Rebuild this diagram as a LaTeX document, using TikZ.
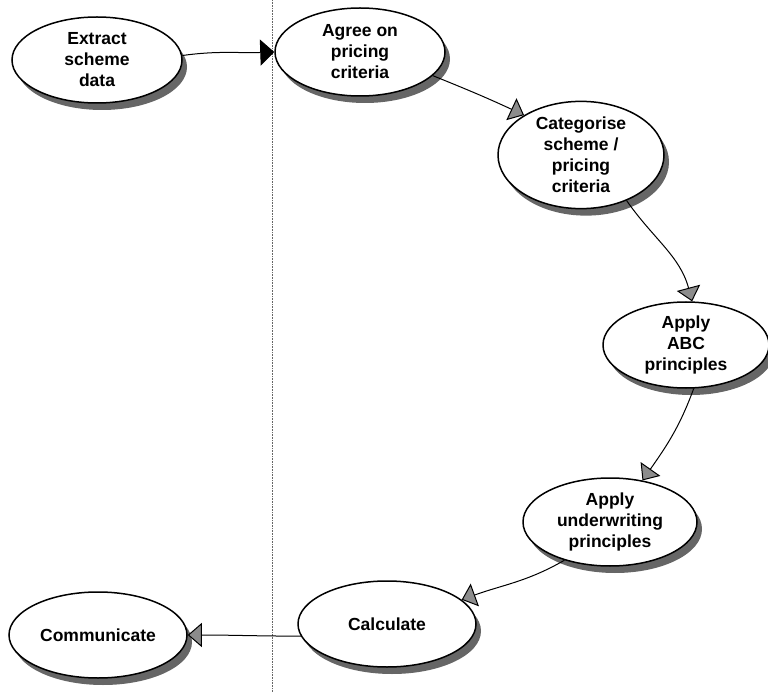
\documentclass[tikz,border=0pt]{standalone}
\usepackage{fontspec}
\setmainfont{Liberation Sans}
\usetikzlibrary{shapes.geometric,arrows.meta,shadows}
\begin{document}
\begin{tikzpicture}[x=1pt,y=-1pt,
  stage/.style={ellipse,draw=black,line width=1.5pt,fill=white,inner sep=0pt,
    align=center,font=\fontsize{17.5}{21}\selectfont\bfseries,
    drop shadow={shadow xshift=5pt,shadow yshift=-7pt,fill=black!60,opacity=1}},
  conn/.style={line width=1pt,draw=black,
    -{Triangle[length=14pt,width=24pt,fill=black!45]}},
  divider/.style={densely dotted,line width=0.6pt,draw=black!60}]
\useasboundingbox (0,0) rectangle (768,692);

% dividing line
\coordinate (vt) at (272,0);
\coordinate (vb) at (272,692);
\draw[divider] (vt) -- (vb);

% process stages
\node[stage,minimum width=170pt,minimum height=86pt] (e1) at (97,60) {Extract\\scheme\\data};
\node[stage,minimum width=170pt,minimum height=88pt] (e2) at (360,52) {Agree on\\pricing\\criteria};
\node[stage,minimum width=166pt,minimum height=102pt] (e3) at (581,155) {Categorise\\scheme /\\pricing\\criteria};
\node[stage,minimum width=166pt,minimum height=86pt] (e4) at (686,345) {Apply\\ABC\\principles};
\node[stage,minimum width=174pt,minimum height=88pt] (e5) at (610,522) {Apply\\underwriting\\principles};
\node[stage,minimum width=178pt,minimum height=86pt] (e6) at (387,624) {Calculate};
\node[stage,minimum width=178pt,minimum height=86pt] (e7) at (98,635) {Communicate};

% connectors
\draw[conn,-{Triangle[length=14pt,width=26pt,fill=black]}] (e1.3) to[out=8,in=182] (e2.west);
\draw[conn] (e2.-18) to[out=-22,in=155] (e3.145);
\draw[conn] (e3.-45) to[out=-55,in=105] (e4.82);
\draw[conn] (e4.-80) to[out=-110,in=55] (e5.52);
\draw[conn] (e5.-140) to[out=-150,in=20] (e6.18);
\draw[conn] (e6.188) to[out=180,in=0] (e7.east);
\end{tikzpicture}
\end{document}
